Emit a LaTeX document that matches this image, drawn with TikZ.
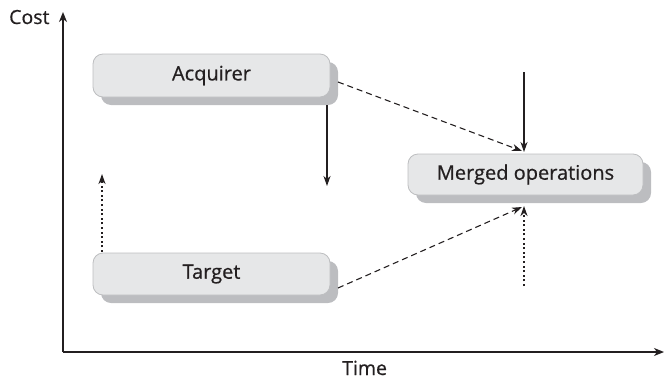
\documentclass[tikz,border=0pt]{standalone}
\usepackage{fontspec}
\setmainfont{Open Sans}[FakeBold=0.6]
\usetikzlibrary{arrows.meta,shadows}
\definecolor{boxfill}{HTML}{E6E7E8}
\definecolor{boxline}{HTML}{BDBEC0}
\definecolor{shadowgray}{HTML}{BCBDC0}
\definecolor{ink}{HTML}{231F20}
\tikzset{
  stagebox/.style={rectangle, rounded corners=10pt, fill=boxfill, draw=boxline, line width=0.8pt,
    text=ink, font=\fontsize{20}{24}\selectfont, inner sep=0pt,
    drop shadow={shadow xshift=8pt, shadow yshift=-8pt, fill=shadowgray, opacity=1}},
  axislabel/.style={text=ink, font=\fontsize{19.5}{24}\selectfont, inner sep=0pt},
  axisline/.style={draw=ink, line width=1.3pt, -{Stealth[length=10pt,width=8pt,inset=3pt]}},
  tip/.style={-{Stealth[length=10pt,width=7pt,inset=3pt]}},
  solidarrow/.style={draw=ink, line width=1.2pt, tip},
  dashedarrow/.style={draw=ink, line width=1.1pt, dash pattern=on 6pt off 4pt, tip},
  dottedarrow/.style={draw=ink, line width=2.2pt, dash pattern=on 2pt off 2.6pt, tip},
}
\begin{document}
\begin{tikzpicture}[x=1pt,y=-1pt]
\useasboundingbox (0,0) rectangle (664,381);
% axes
\coordinate (origin) at (63,352);
\coordinate (ytop) at (63,12);
\coordinate (xend) at (664,352);
\draw[axisline] (origin) -- (ytop);
\draw[axisline] (origin) -- (xend);
\node[axislabel, anchor=base west] (cost) at (9,24) {Cost};
\node[axislabel, anchor=base west] (time) at (342,375) {Time};
% boxes
\node[stagebox, minimum width=237pt, minimum height=43pt] (acq) at (211.5,75.5) {Acquirer};
\node[stagebox, minimum width=237pt, minimum height=42pt] (tgt) at (211.5,274) {Target};
\node[stagebox, minimum width=235pt, minimum height=41pt] (mrg) at (525.5,174.5) {Merged operations};
% connector endpoints
\coordinate (acqout) at (338,82);
\coordinate (tgtout) at (338,288);
\coordinate (mrgtop) at (522,151);
\coordinate (mrgbot) at (522,207);
\coordinate (downstart) at (327,105);
\coordinate (downend) at (327,186);
\coordinate (topstart) at (524,72);
\coordinate (topend) at (524,152);
\coordinate (botstart) at (524,286);
\coordinate (botend) at (524,206);
\coordinate (leftstart) at (102,252);
\coordinate (leftend) at (102,174);
% connectors
\draw[dashedarrow] (acqout) -- (mrgtop);
\draw[dashedarrow] (tgtout) -- (mrgbot);
\draw[solidarrow] (downstart) -- (downend);
\draw[solidarrow] (topstart) -- (topend);
\draw[dottedarrow] (botstart) -- (botend);
\draw[dottedarrow] (leftstart) -- (leftend);
\end{tikzpicture}
\end{document}
